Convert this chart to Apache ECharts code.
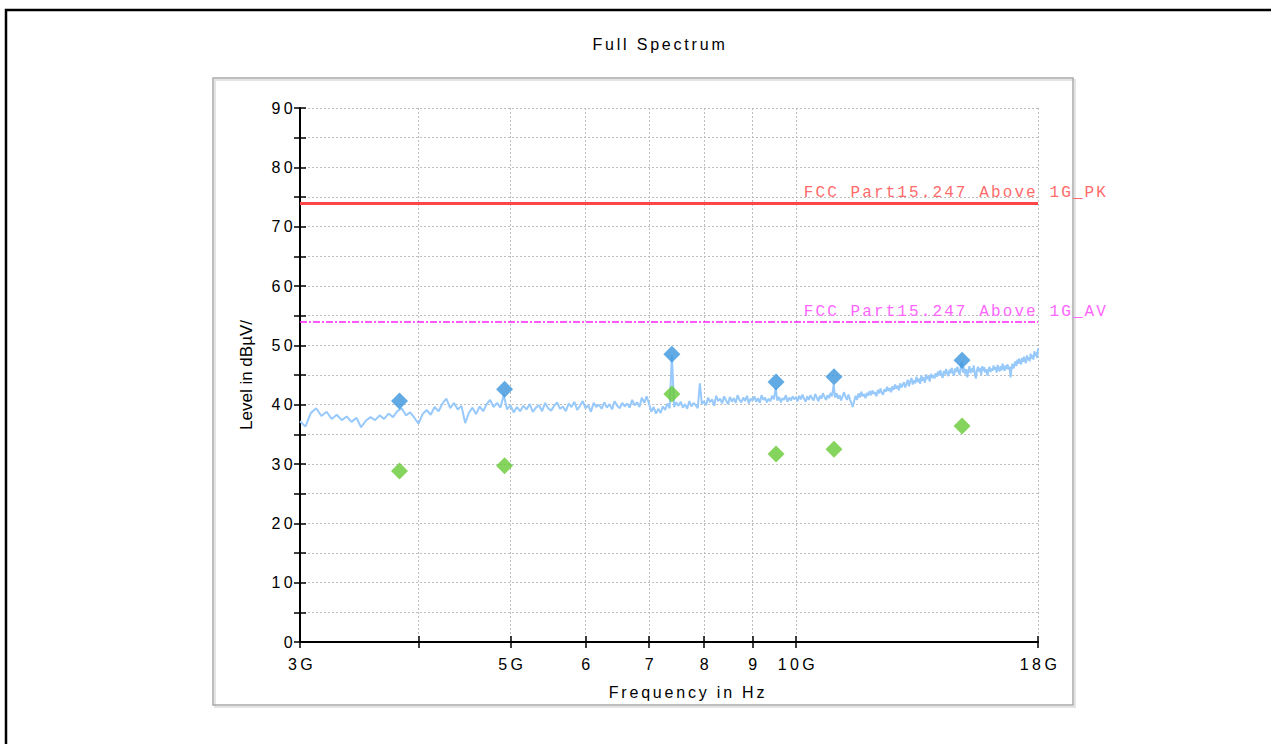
<!DOCTYPE html>
<html><head><meta charset="utf-8">
<script src="https://cdn.jsdelivr.net/npm/echarts@6/dist/echarts.min.js"></script>
<style>
html,body{margin:0;padding:0;background:#fff;}
#chart{width:1271px;height:744px;}
#chart text[style*="spacedA"]{letter-spacing:2.8px;}
#chart text[style*="spacedB"]{letter-spacing:3.4px;}
#chart text[style*="spacedM"]{letter-spacing:2.1px;}
</style></head><body><div id="chart"></div><script>
// ---- data ----
const titleText = 'Full Spectrum';
const xName = 'Frequency in Hz';
const yName = 'Level in dBµV/';
const xTickValues = [3, 4, 5, 6, 7, 8, 9, 10, 18];           // GHz
const xTickLabels = ['3G', '', '5G', '6', '7', '8', '9', '10G', '18G'];
const yMin = 0, yMax = 90, yInterval = 10;
const limitPK = 74, limitPKName = 'FCC Part15.247 Above 1G_PK';
const limitAV = 54, limitAVName = 'FCC Part15.247 Above 1G_AV';
const markerFreqGHz = [3.82, 4.93, 7.40, 9.53, 10.97, 14.97];
const peakLevels    = [40.6, 42.6, 48.5, 43.8, 44.7, 47.5];
const avgLevels     = [28.8, 29.7, 41.8, 31.7, 32.5, 36.4];
// spectrum sweep: 3 GHz .. 18 GHz, 40 MHz step (one row per GHz)
const traceStartGHz = 3, traceStepGHz = 0.04;
const traceLevels = [
37.2,36.3,38.6,39.4,38.1,38.8,37.6,38.3,37.4,38.0,37.1,37.8,36.2,37.3,37.9,37.4,38.2,37.6,38.5,37.9,38.9,39.4,38.2,38.7,37.8,
36.8,38.4,39.1,38.3,39.6,38.9,40.2,41.0,39.4,40.3,39.2,39.8,36.9,38.6,39.5,38.4,39.7,38.9,40.1,40.8,39.6,40.3,39.5,41.6,39.2,
39.9,38.7,39.6,38.9,39.8,39.2,40.1,38.8,39.5,39.9,38.9,40.3,39.4,39.0,39.8,40.4,39.3,39.7,38.9,40.2,39.6,40.5,39.1,39.8,40.6,
39.4,39.9,38.8,40.3,39.6,40.0,39.3,40.4,39.5,40.1,39.2,40.6,39.8,39.4,40.3,39.7,40.2,39.5,40.8,39.9,40.4,39.6,41.2,40.3,41.4,
40.2,38.8,39.6,38.5,39.3,38.6,39.7,39.1,40.2,39.4,48.3,39.6,40.4,39.8,40.5,39.5,40.1,39.3,40.6,39.7,40.3,39.9,39.4,43.6,40.1,
40.6,39.9,41.2,40.4,40.9,39.8,41.5,40.6,41.0,40.2,41.4,40.7,40.1,41.3,40.5,41.1,40.3,41.6,40.8,40.4,41.2,40.6,41.5,40.2,41.0,
40.7,41.4,40.5,41.1,40.3,41.6,40.8,41.2,40.4,41.0,40.6,41.5,40.9,42.8,40.7,41.3,40.4,41.1,40.8,41.6,40.5,41.2,40.7,41.4,40.9,
41.3,40.6,41.5,40.9,41.7,41.0,40.5,41.4,40.8,41.6,41.1,40.7,41.8,41.2,40.6,41.5,41.0,41.9,41.3,40.8,41.6,41.1,42.0,41.4,43.4,
41.2,41.9,41.0,41.6,40.7,41.4,42.1,41.3,40.8,41.7,40.9,40.3,39.6,40.6,41.5,40.8,41.9,41.2,42.2,41.4,41.8,41.1,42.0,41.5,42.3,
41.6,42.4,41.8,42.1,41.4,42.5,41.9,42.7,42.0,41.7,42.6,42.2,43.0,42.3,42.8,42.1,43.1,42.5,43.4,42.7,43.2,42.4,43.6,42.9,43.3,
43.8,42.9,43.5,44.2,43.1,43.9,44.5,43.4,44.1,43.6,44.7,43.8,44.4,43.5,44.9,44.0,44.6,43.7,45.1,44.3,44.8,43.9,45.2,44.5,45.0,
44.4,45.3,44.7,45.6,44.9,45.8,45.0,44.5,45.7,45.1,46.0,45.2,44.8,45.9,45.3,46.2,45.4,44.9,46.1,45.5,46.4,45.6,45.0,46.3,47.2,
45.4,46.3,45.1,46.0,44.6,45.7,46.5,45.3,46.1,45.5,46.6,45.2,44.4,45.8,46.4,45.6,46.2,45.0,46.5,45.7,46.3,45.4,46.0,44.9,45.8,
46.4,45.5,46.1,45.7,46.6,45.9,46.3,45.4,46.7,46.0,45.6,46.5,45.8,46.9,46.2,45.7,46.6,46.0,46.8,45.9,46.4,44.6,46.2,46.9,46.1,
46.7,47.3,46.5,47.6,46.9,47.8,47.1,46.8,47.9,47.2,48.1,47.4,47.0,48.3,47.5,48.0,47.3,48.6,47.8,48.4,47.6,49.0,48.2,48.8,47.9,
49.5
];

// ---- build ----
const traceData = traceLevels.map((v, i) => [+(traceStartGHz + i * traceStepGHz).toFixed(2), v]);
const peakData = markerFreqGHz.map((f, i) => [f, peakLevels[i]]);
const avgData = markerFreqGHz.map((f, i) => [f, avgLevels[i]]);
const xLabelFmt = v => { const k = xTickValues.findIndex(t => Math.abs(t - v) < 1e-6); return k >= 0 ? xTickLabels[k] : ''; };

const gridLine = { show: true, lineStyle: { color: '#bdbdbd', width: 1, type: [2, 2] } };
const tickFont = 'Liberation Sans, spacedB';

const chart = echarts.init(document.getElementById('chart'), null, { renderer: 'svg' });
chart.setOption({
  animation: false,
  backgroundColor: '#fff',
  graphic: [
    { type: 'rect', shape: { x: 6, y: 10, width: 1400, height: 900 }, style: { fill: 'none', stroke: '#000', lineWidth: 2.5 }, z: -10 },
    { type: 'rect', shape: { x: 215, y: 80, width: 860, height: 627 }, style: { fill: 'none', stroke: '#e4e4e4', lineWidth: 2 }, z: -10 },
    { type: 'rect', shape: { x: 213, y: 78, width: 860, height: 627 }, style: { fill: 'none', stroke: '#a9a9a9', lineWidth: 1.5 }, z: -9 }
  ],
  title: {
    text: titleText, left: 655, top: 31, textAlign: 'center',
    textStyle: { fontFamily: 'Liberation Sans, spacedA', fontSize: 16, fontWeight: 'normal', color: '#000' }
  },
  grid: { left: 300, right: 233, top: 108, bottom: 102, containLabel: false },
  xAxis: [
    {
      type: 'log', logBase: 10, min: 3, max: 18, position: 'bottom',
      name: xName, nameLocation: 'middle', nameGap: 42,
      nameTextStyle: { fontFamily: 'Liberation Sans, spacedA', fontSize: 16, color: '#000', padding: [0, 0, 0, 38] },
      axisLine: { show: true, lineStyle: { color: '#000', width: 2 } },
      axisTick: { show: true, inside: false, length: 6, customValues: xTickValues, lineStyle: { color: '#000', width: 1.5 } },
      axisLabel: { show: true, customValues: xTickValues, formatter: xLabelFmt, margin: 14, fontFamily: tickFont, fontSize: 16, color: '#000', padding: [0, 0, 0, 4] },
      splitLine: gridLine,
      minorTick: { show: false }, minorSplitLine: { show: false }
    },
    {
      type: 'log', logBase: 10, min: 3, max: 18, position: 'bottom',
      axisLine: { show: false },
      axisTick: { show: true, inside: true, length: 6, customValues: xTickValues, lineStyle: { color: '#000', width: 1.5 } },
      axisLabel: { show: false }, splitLine: { show: false }
    }
  ],
  yAxis: [
    {
      type: 'value', min: yMin, max: yMax, interval: yInterval, position: 'left',
      name: yName, nameLocation: 'middle', nameGap: 45,
      nameTextStyle: { fontFamily: 'Liberation Sans', fontSize: 17, color: '#000' },
      axisLine: { show: true, lineStyle: { color: '#000', width: 2 } },
      axisTick: { show: true, inside: false, length: 6, lineStyle: { color: '#000', width: 1.5 } },
      minorTick: { show: true, splitNumber: 2, length: 6, lineStyle: { color: '#000', width: 1.5 } },
      axisLabel: { show: true, margin: 4, fontFamily: tickFont, fontSize: 16, color: '#000' },
      splitLine: gridLine,
      minorSplitLine: gridLine
    },
    {
      type: 'value', min: yMin, max: yMax, interval: yInterval, position: 'left',
      axisLine: { show: false },
      axisTick: { show: true, inside: true, length: 6, lineStyle: { color: '#000', width: 1.5 } },
      minorTick: { show: true, splitNumber: 2, length: 6, lineStyle: { color: '#000', width: 1.5 } },
      axisLabel: { show: false }, splitLine: { show: false }
    }
  ],
  series: [
    {
      name: 'Spectrum', type: 'line', data: traceData, symbol: 'none', showSymbol: false,
      lineStyle: { color: '#98c9fb', width: 2 }, z: 2,
      markLine: {
        silent: true, symbol: ['none', 'none'], animation: false,
        label: { show: true, position: 'insideEndTop', formatter: '{b}', fontFamily: 'Liberation Mono, spacedM', fontSize: 16, distance: [-70, 2] },
        data: [
          { name: limitPKName, yAxis: limitPK, lineStyle: { color: '#ff4545', width: 3, type: 'solid', opacity: 1 }, label: { color: '#ff6b6b' } },
          { name: limitAVName, yAxis: limitAV, lineStyle: { color: '#ff22ff', width: 1.5, type: [7, 2, 2, 2], opacity: 1 }, label: { color: '#ff66ff' } }
        ]
      }
    },
    { name: 'Peak', type: 'scatter', data: peakData, symbol: 'diamond', symbolSize: 17, itemStyle: { color: '#3a95dc' }, z: 5 },
    { name: 'Average', type: 'scatter', data: avgData, symbol: 'diamond', symbolSize: 17, itemStyle: { color: '#66c935' }, z: 5 }
  ]
});
</script></body></html>
